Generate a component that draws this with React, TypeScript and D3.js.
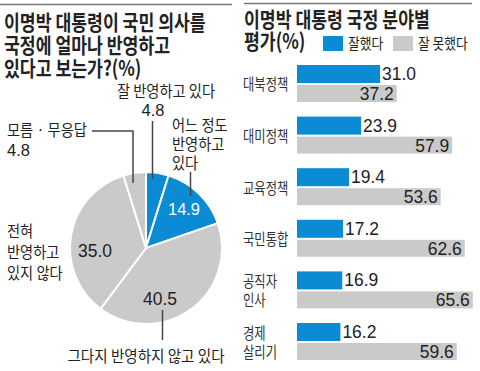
import React from "react";
import * as d3 from "d3";

const pieLabels = ["잘 반영하고 있다", "어느 정도 반영하고 있다", "그다지 반영하지 않고 있다", "전혀 반영하고 있지 않다", "모름 · 무응답"];
const pieValues = [4.8, 14.9, 40.5, 35.0, 4.8];
const pieColors = ["#0a8bd4", "#0a8bd4", "#cacaca", "#cacaca", "#cacaca"];

const categories = ["대북정책", "대미정책", "교육정책", "국민통합", "공직자 인사", "경제 살리기"];
const categoryLines = [["대북정책"], ["대미정책"], ["교육정책"], ["국민통합"], ["공직자", "인사"], ["경제", "살리기"]];
const goodValues = [31.0, 23.9, 19.4, 17.2, 16.9, 16.2];
const badValues = [37.2, 57.9, 53.6, 62.6, 65.6, 59.6];
const legendLabels = ["잘했다", "잘 못했다"];

const BLUE = "#0a8bd4";
const GRAY = "#cacaca";
const TXT = "#222";
const KR = "'Noto Sans CJK KR', 'Noto Sans', sans-serif";
const NUM = "'Liberation Sans Narrow', 'Liberation Sans', Arial, sans-serif";

type TP = { x: number; y: number; size: number; sx?: number; anchor?: string; weight?: number; fill?: string; family?: string; children?: React.ReactNode };
const T = ({ x, y, size, sx = 0.85, anchor = "start", weight = 400, fill = TXT, family = KR, children }: TP) => (
  <text transform={`translate(${x},${y}) scale(${sx},1)`} textAnchor={anchor} fontSize={size} fontWeight={weight} fill={fill} fontFamily={family}>
    {children}
  </text>
);

export default function App() {
  const W = 480, H = 371;
  const cx = 146, cy = 248, r = 76;
  const pie = d3.pie<number>().value((d) => d).sort(null)(pieValues);
  const arc = d3.arc<d3.PieArcDatum<number>>().innerRadius(0).outerRadius(r);

  const x = d3.scaleLinear().domain([0, 100]).range([297, 297 + 268]);
  const y = d3.scaleBand<string>().domain(categories).range([65, 360]).paddingInner(0.283).paddingOuter(0);
  const NS = 0.97;
  const LS = 15.5, LX = 0.92;

  return (
    <svg width={W} height={H} style={{ position: "absolute", left: 0, top: 0, background: "#fff" }}>
      <rect width={W} height={H} fill="#fff" />
      {/* top rules */}
      <line x1={0} x2={232} y1={4.5} y2={4.5} stroke="#777" strokeWidth={1.5} />
      <line x1={244} x2={472} y1={3.5} y2={3.5} stroke="#777" strokeWidth={1.5} />

      {/* left title */}
      <T x={4} y={30} size={21} sx={0.82} weight={700}>이명박 대통령이 국민 의사를</T>
      <T x={4} y={53} size={21} sx={0.82} weight={700}>국정에 얼마나 반영하고</T>
      <T x={4} y={76} size={21} sx={0.82} weight={700}>있다고 보는가?(%)</T>

      {/* pie */}
      <g transform={`translate(${cx},${cy})`}>
        {pie.map((p, i) => (
          <path key={i} d={arc(p) || ""} fill={pieColors[i]} stroke="#fff" strokeWidth={2} />
        ))}
      </g>

      {/* pie labels */}
      <T x={166} y={97} size={LS} sx={LX} anchor="middle">{pieLabels[0]}</T>
      <T x={153} y={116} size={17} sx={NS} family={NUM} anchor="middle">{pieValues[0].toFixed(1)}</T>
      <line x1={152.5} x2={152.5} y1={121} y2={179} stroke="#444" strokeWidth={1.5} />

      <T x={172} y={131} size={LS} sx={LX}>어느 정도</T>
      <T x={172} y={150} size={LS} sx={LX}>반영하고</T>
      <T x={172} y={169} size={LS} sx={LX}>있다</T>
      <line x1={190.5} x2={190.5} y1={172} y2={196} stroke="#444" strokeWidth={1.5} />
      <T x={184} y={215} size={17} sx={NS} family={NUM} anchor="middle" fill="#fff">{pieValues[1].toFixed(1)}</T>

      <T x={7} y={136} size={LS} sx={LX}>{pieLabels[4]}</T>
      <T x={7} y={156} size={17} sx={NS} family={NUM}>{pieValues[4].toFixed(1)}</T>
      <polyline points="92,131 133,131 133,183" fill="none" stroke="#444" strokeWidth={1.5} />

      <T x={7} y={237} size={LS} sx={LX}>전혀</T>
      <T x={7} y={258} size={LS} sx={LX}>반영하고</T>
      <T x={7} y={279} size={LS} sx={LX}>있지 않다</T>
      <T x={95} y={257} size={18} sx={NS} family={NUM} anchor="middle">{pieValues[3].toFixed(1)}</T>

      <T x={160} y={305} size={18} sx={NS} family={NUM} anchor="middle">{pieValues[2].toFixed(1)}</T>
      <line x1={162.5} x2={162.5} y1={310} y2={340} stroke="#444" strokeWidth={1.5} />
      <T x={146} y={362} size={LS} sx={0.94} anchor="middle">{pieLabels[2]}</T>

      {/* right title */}
      <T x={244} y={27} size={21} sx={0.82} weight={700}>이명박 대통령 국정 분야별</T>
      <T x={244} y={49} size={21} sx={0.82} weight={700}>평가(%)</T>

      {/* legend */}
      <rect x={323} y={36} width={20} height={15} fill={BLUE} />
      <T x={348} y={49} size={15}>{legendLabels[0]}</T>
      <rect x={393} y={36} width={20} height={15} fill={GRAY} />
      <T x={418} y={49} size={15}>{legendLabels[1]}</T>

      {/* bars */}
      {categories.map((c, i) => {
        const y0 = y(c) as number;
        const bw = y.bandwidth();
        const lines = categoryLines[i];
        const mid = y0 + bw / 2;
        return (
          <g key={c}>
            <rect x={x(0)} y={y0} width={x(goodValues[i]) - x(0)} height={18} fill={BLUE} />
            <rect x={x(0)} y={y0 + 20} width={x(badValues[i]) - x(0)} height={17} fill={GRAY} />
            <T x={x(goodValues[i]) + 2} y={y0 + 15} size={18} sx={NS} family={NUM}>{goodValues[i].toFixed(1)}</T>
            <T x={x(badValues[i]) - 3} y={y0 + 35} size={18} sx={NS} family={NUM} anchor="end">{badValues[i].toFixed(1)}</T>
            {lines.map((l, j) => (
              <T key={j} x={243} y={mid + 7 + (j - (lines.length - 1) / 2) * 19} size={16} sx={0.77} fill="#333">{l}</T>
            ))}
          </g>
        );
      })}
    </svg>
  );
}
